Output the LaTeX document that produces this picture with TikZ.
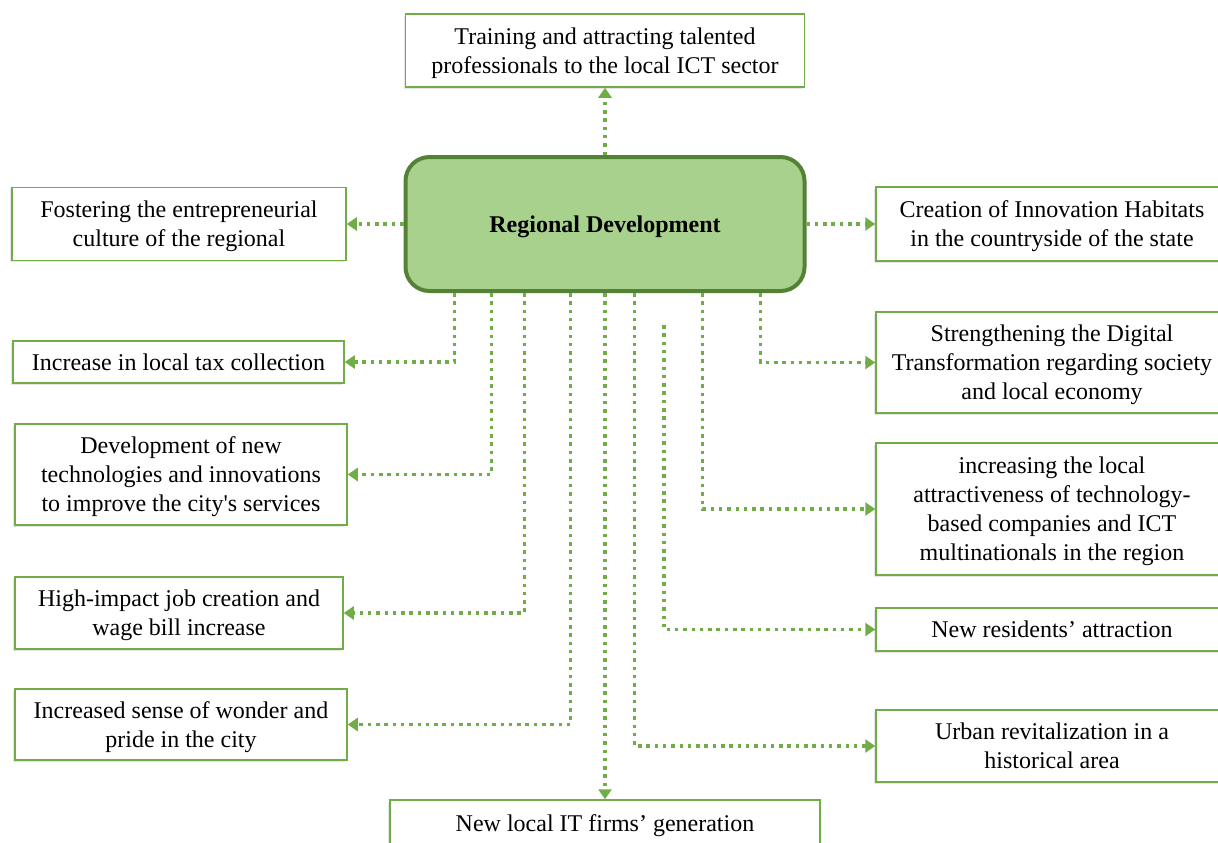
\documentclass[tikz,border=0pt]{standalone}
\usepackage{fontspec}
\setmainfont{Liberation Serif}
\usepackage{tikz}
\usetikzlibrary{arrows.meta,shadows}
\definecolor{boxgreen}{HTML}{70AD47}
\definecolor{hubfill}{HTML}{A9D18E}
\definecolor{hubline}{HTML}{548235}

\begin{document}
\begin{tikzpicture}[x=0.5pt,y=-0.5pt, every node/.style={font=\fontsize{12}{14.5}\selectfont}]
\tikzset{box/.style = {shape=rectangle,draw=boxgreen,fill=white,line width=0.75pt,align=center,inner sep=2pt,
  text depth=0pt,drop shadow={shadow xshift=-0.8pt,shadow yshift=-0.8pt,opacity=0.2}}}
\tikzset{hub/.style = {shape=rectangle,rounded corners=12pt,draw=hubline,fill=hubfill,line width=2pt,
  minimum width=199.5pt,minimum height=67pt,text height=11pt,font=\fontsize{12}{14.5}\selectfont\bfseries}}
\tikzset{edge/.style = {draw=boxgreen,line width=1.75pt,dash pattern=on 1.75pt off 2.4pt,
  -{Triangle[length=5pt,width=6.5pt]}}}
\useasboundingbox (0,0) rectangle (1218,842);
% main
\node[hub] (dev) at (605,224) {Regional Development};
\node[box,minimum width=199.5pt,minimum height=36.5pt] (talent) at (605,50.5) {Training and attracting talented\\professionals to the local ICT sector};
\node[box,minimum width=215pt,minimum height=23pt] (firms) at (605,823) {New local IT firms’ generation};
% left
\node[box,minimum width=167pt,minimum height=36.5pt] (culture) at (179,224) {Fostering the entrepreneurial\\culture of the regional};
\node[box,minimum width=165.5pt,minimum height=21pt] (tax) at (178.5,362) {Increase in local tax collection};
\node[box,minimum width=166pt,minimum height=50.5pt] (tech) at (181,474.5) {Development of new\\technologies and innovations\\to improve the city\textquotesingle s services};
\node[box,minimum width=164pt,minimum height=36pt] (jobs) at (179,613) {High-impact job creation and\\wage bill increase};
\node[box,minimum width=166pt,minimum height=35.5pt] (pride) at (181,724.5) {Increased sense of wonder and\\pride in the city};
% right
\node[box,minimum width=176pt,minimum height=37pt] (habitats) at (1052,224) {Creation of Innovation Habitats\\in the countryside of the state};
\node[box,minimum width=176pt,minimum height=50.5pt] (digital) at (1052,362.5) {Strengthening the Digital\\Transformation regarding society\\and local economy};
\node[box,minimum width=176pt,minimum height=66pt] (attract) at (1052,509) {increasing the local\\attractiveness of technology-\\based companies and ICT\\multinationals in the region};
\node[box,minimum width=176pt,minimum height=21.5pt] (residents) at (1052,629.5) {New residents’ attraction};
\node[box,minimum width=176pt,minimum height=36pt] (urban) at (1052,746) {Urban revitalization in a\\historical area};
\coordinate (resstart) at (664,325);
%edges
\draw[edge] (dev) to (talent);
\draw[edge] (dev) to (culture);
\draw[edge] (dev) to (habitats);
\draw[edge] (dev) to (firms);
%edges left
\draw[edge] ([xshift=25.5pt]dev.south west) |- (tax);
\draw[edge] ([xshift=44pt]dev.south west) |- (tech);
\draw[edge] ([xshift=60.5pt]dev.south west) |- (jobs);
\draw[edge] ([xshift=83.5pt]dev.south west) |- (pride);
%edges right
\draw[edge] ([xshift=115.5pt]dev.south west) |- (urban);
\draw[edge] (resstart) |- (residents);
\draw[edge] ([xshift=149.5pt]dev.south west) |- (attract);
\draw[edge] ([xshift=178.5pt]dev.south west) |- (digital);

\end{tikzpicture}
\end{document}
